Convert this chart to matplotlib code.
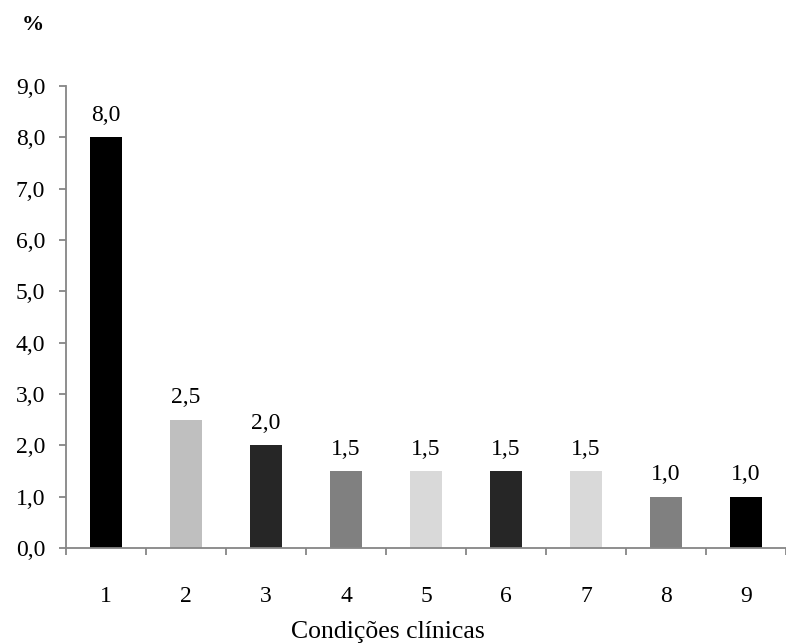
import matplotlib
matplotlib.use("Agg")
import matplotlib.pyplot as plt
import numpy as np

categories = ["1", "2", "3", "4", "5", "6", "7", "8", "9"]
values = [8.0, 2.5, 2.0, 1.5, 1.5, 1.5, 1.5, 1.0, 1.0]
colors = ["#000000", "#bfbfbf", "#262626", "#808080", "#d9d9d9",
          "#262626", "#d9d9d9", "#808080", "#000000"]
yticks = [0, 1, 2, 3, 4, 5, 6, 7, 8, 9]

plt.rcParams['font.family'] = ['Liberation Serif', 'DejaVu Serif']

fig = plt.figure(figsize=(7.86, 6.43), dpi=100)
ax = fig.add_axes([66/786, 95/643, 720/786, (548-86)/643])

x = np.arange(len(categories))
bars = ax.bar(x, values, width=0.4, color=colors, zorder=2)
for xi, v in zip(x, values):
    ax.text(xi, v + 0.32, f"{v:.1f}".replace(".", ","), ha="center", va="baseline", fontsize=17)

ax.set_xlim(-0.5, len(categories) - 0.5)
ax.set_ylim(0, 9)
ax.set_yticks(yticks)
ax.set_yticklabels([f"{t:.1f}".replace(".", ",") for t in yticks], fontsize=17)
ax.set_xticks(x)
ax.set_xticklabels(categories, fontsize=17)
ax.set_xticks(np.arange(-0.5, len(categories) + 0.5, 1), minor=True)

axcol = "#868686"
for s in ["top", "right"]:
    ax.spines[s].set_visible(False)
for s in ["left", "bottom"]:
    ax.spines[s].set_color(axcol)
    ax.spines[s].set_linewidth(1.3)
ax.tick_params(axis="y", direction="out", length=5, width=1.3, color=axcol, pad=10)
ax.tick_params(axis="x", which="major", length=0, pad=27)
ax.tick_params(axis="x", which="minor", direction="out", length=5, width=1.3, color=axcol)

fig.text(388/786, 1 - 638/643, "Condições clínicas", fontsize=18.5, ha="center", va="baseline")
fig.text(33/786, 1 - 25/643, "%", fontsize=16, fontweight="bold", ha="center", va="center")

fig.savefig("out.png", dpi=100)
